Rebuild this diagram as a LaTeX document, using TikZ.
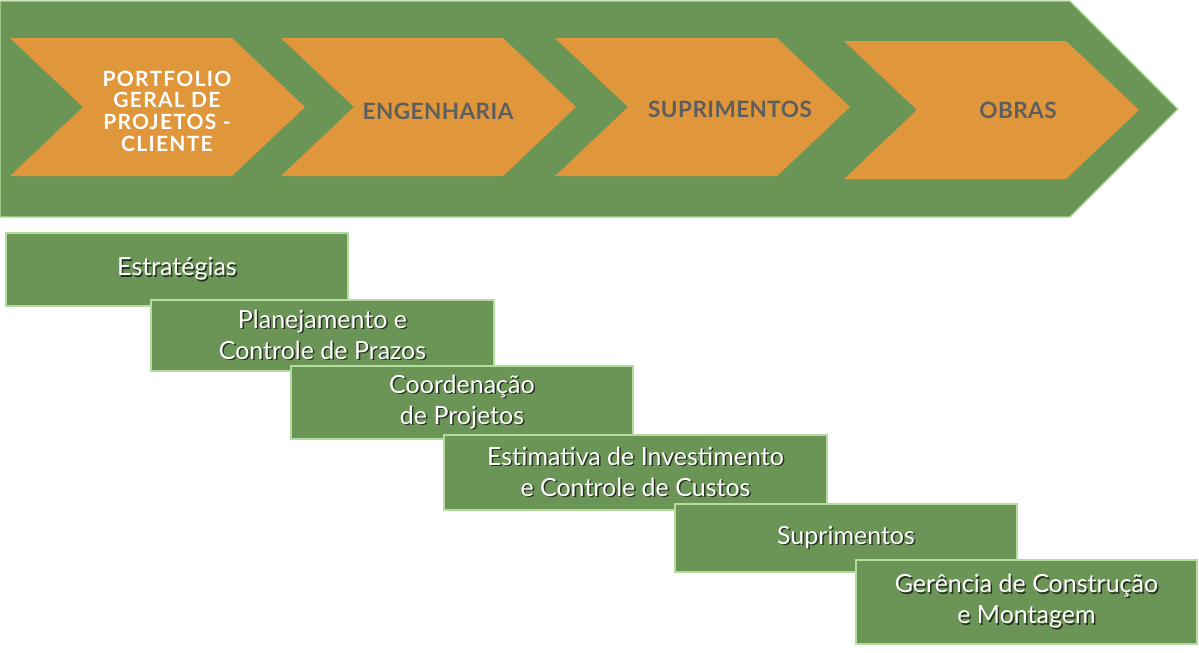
\documentclass[tikz,border=0pt]{standalone}
\usepackage{fontspec}
\setmainfont{Lato}
\newfontfamily\titulo[LetterSpace=2]{Lato}
\newfontfamily\tituloclaro[LetterSpace=6]{Lato}
\definecolor{verde}{HTML}{6B9556}
\definecolor{laranja}{HTML}{E0963A}
\definecolor{cinza}{HTML}{5E5E5E}
\definecolor{borda}{HTML}{B4DC9C}
\definecolor{sombra}{HTML}{26321F}
\newcommand{\sombra}[1]{\leavevmode\rlap{\kern1.5pt\raisebox{-1.5pt}{\color{sombra}#1}}#1}
\begin{document}
\begin{tikzpicture}[x=1pt, y=-1pt,
    faixa/.style = {fill=verde, draw=borda, line width=1.2pt},
    etapa/.style = {text=cinza, align=center, inner sep=0pt, font=\titulo\bfseries\fontsize{22.5}{22}\selectfont},
    caixa/.style = {fill=verde, draw=borda, line width=1.2pt, text=white, align=center, inner sep=0pt, font=\fontsize{25}{31}\selectfont}]
    \useasboundingbox (0,0) rectangle (1199,653);
    % faixa de fundo
    \draw[faixa] (0,1) -- (1070,1) -- (1178,109) -- (1070,217) -- (0,217) -- cycle;
    \foreach \x/\y in {10/38, 281/38, 555/38, 844/41}
        \fill[laranja] (\x,\y) -- ++(222,0) -- ++(73,69) -- ++(-73,69) -- ++(-222,0) -- ++(73,-69) -- cycle;
    \node[etapa, text=white, font=\tituloclaro\bfseries\fontsize{21}{21.7}\selectfont] (portfolio) at (167,111) {PORTFOLIO\\GERAL DE\\PROJETOS -\\CLIENTE};
    \node[etapa] (engenharia) at (438,111) {ENGENHARIA};
    \node[etapa] (suprimentos) at (730,109) {SUPRIMENTOS};
    \node[etapa] (obras) at (1018,110) {OBRAS};
    % atividades
    \node[caixa, minimum width=342pt, minimum height=73pt] (estrategias) at (177,269.5) {\sombra{Estratégias}};
    \node[caixa, minimum width=343pt, minimum height=71pt] (prazos) at (322.5,335.5) {\sombra{Planejamento e}\\\sombra{Controle de Prazos}};
    \node[caixa, minimum width=342pt, minimum height=73pt] (coordenacao) at (462,402.5) {\sombra{Coordenação}\\\sombra{de Projetos}};
    \node[caixa, minimum width=383pt, minimum height=75pt] (custos) at (635.5,472.5) {\sombra{Estimativa de Investimento}\\\sombra{e Controle de Custos}};
    \node[caixa, minimum width=342pt, minimum height=68pt] (suprimentos2) at (846,538) {\sombra{Suprimentos}};
    \node[caixa, minimum width=341pt, minimum height=84pt] (construcao) at (1026.5,602) {\sombra{Gerência de Construção}\\\sombra{e Montagem}};
\end{tikzpicture}
\end{document}
